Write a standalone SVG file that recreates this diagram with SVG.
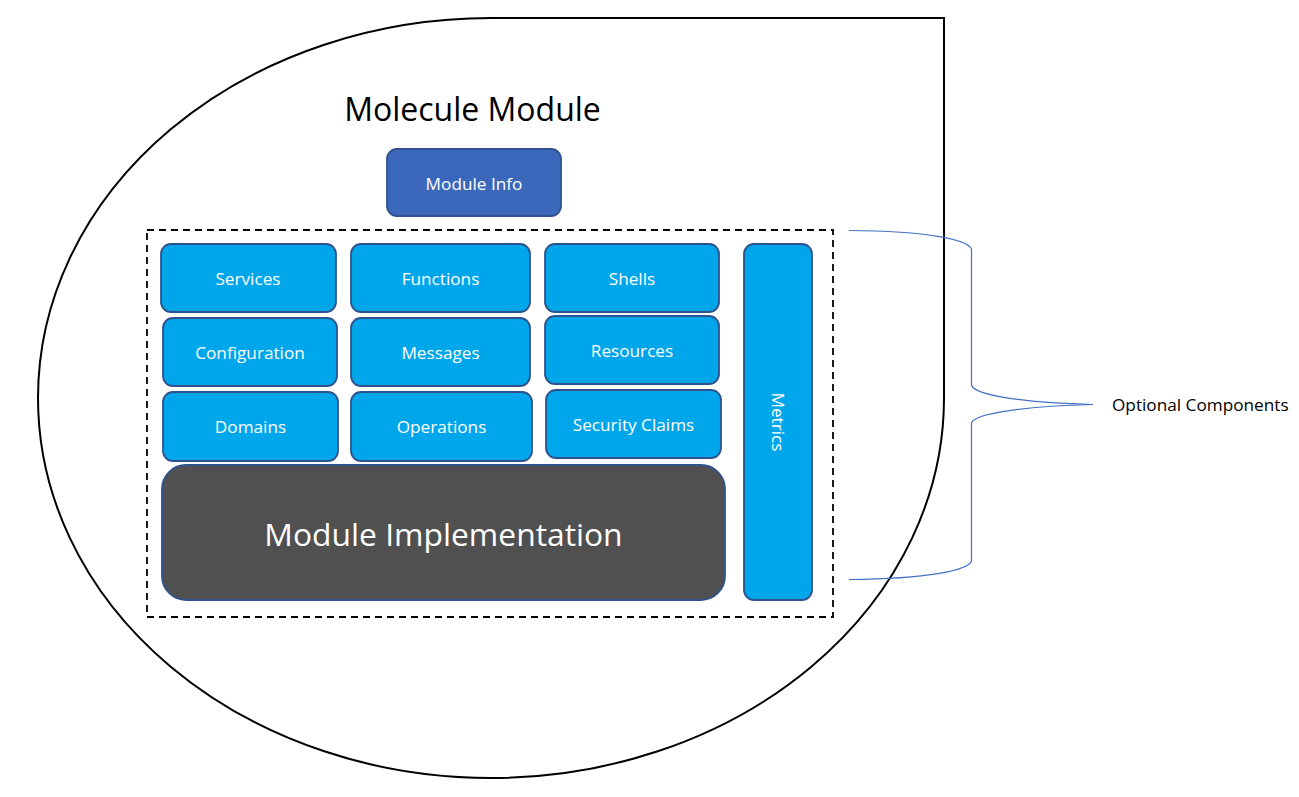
<svg xmlns="http://www.w3.org/2000/svg" width="1299" height="797" viewBox="0 0 1299 797">
<style>
.box{fill:#00A6EA;stroke:#2F528F;stroke-width:1.8}
.info{fill:#3C68BC;stroke:#2F528F;stroke-width:1.8}
.impl{fill:#505050;stroke:#2F528F;stroke-width:1.8}
.lbl{font-family:"Open Sans","Noto Sans","Liberation Sans",sans-serif;font-size:17.2px;fill:#FFFFFF;text-anchor:middle}
.big{font-family:"Open Sans","Noto Sans","Liberation Sans",sans-serif;fill:#000000}
</style>
<rect width="1299" height="797" fill="#FFFFFF"/>
<g id="molecule-module">
<path d="M 491 18 L 944 18 L 944 398 A 453 380 0 1 1 491 18 Z" fill="none" stroke="#000000" stroke-width="2"/>
<text class="big" x="472.5" y="121" font-size="32" text-anchor="middle">Molecule Module</text>
</g>
<g id="optional-group">
<rect x="147" y="230" width="686" height="387" fill="none" stroke="#000000" stroke-width="1.8" stroke-dasharray="7,5"/>
</g>
<g id="module-info">
<rect class="info" x="387" y="149" width="174" height="67" rx="10"/>
<text class="lbl" x="474" y="190">Module Info</text>
</g>
<g id="services">
<rect class="box" x="161" y="244" width="175" height="68" rx="10"/>
<text class="lbl" x="248" y="285">Services</text>
</g>
<g id="functions">
<rect class="box" x="351" y="244" width="179" height="68" rx="10"/>
<text class="lbl" x="440.5" y="285">Functions</text>
</g>
<g id="shells">
<rect class="box" x="545" y="244" width="174" height="68" rx="10"/>
<text class="lbl" x="632" y="285">Shells</text>
</g>
<g id="configuration">
<rect class="box" x="163" y="318" width="174" height="68" rx="10"/>
<text class="lbl" x="250" y="359">Configuration</text>
</g>
<g id="messages">
<rect class="box" x="351" y="318" width="179" height="68" rx="10"/>
<text class="lbl" x="440.5" y="359">Messages</text>
</g>
<g id="resources">
<rect class="box" x="545" y="316" width="174" height="68" rx="10"/>
<text class="lbl" x="632" y="357">Resources</text>
</g>
<g id="domains">
<rect class="box" x="163" y="392" width="175" height="69" rx="10"/>
<text class="lbl" x="250.5" y="433">Domains</text>
</g>
<g id="operations">
<rect class="box" x="351" y="392" width="181" height="69" rx="10"/>
<text class="lbl" x="441.5" y="433">Operations</text>
</g>
<g id="security-claims">
<rect class="box" x="546" y="390" width="175" height="68" rx="10"/>
<text class="lbl" x="633.5" y="431">Security Claims</text>
</g>
<g id="metrics">
<rect class="box" x="744" y="244" width="68" height="356" rx="10"/>
<text class="lbl" transform="translate(772 422) rotate(90)" x="0" y="0">Metrics</text>
</g>
<g id="module-implementation">
<rect class="impl" x="162" y="465" width="563" height="135" rx="24"/>
<text class="big" x="443.5" y="546" font-size="31.8" text-anchor="middle" style="fill:#FFFFFF">Module Implementation</text>
</g>
<g id="connectors">
<path d="M 849 230.5 C 930 231 968 240 971.5 249 L 971.5 385 C 974 396 1030 403 1093 404.5 C 1030 406 974 413 971.5 423 L 971.5 561 C 968 570 930 579 849 579.5" fill="none" stroke="#4472C4" stroke-width="1.2"/>
</g>
<g id="optional-label">
<text x="1112" y="411" font-family="'Open Sans','Noto Sans','Liberation Sans',sans-serif" font-size="17.2" fill="#000000">Optional Components</text>
</g>
</svg>
